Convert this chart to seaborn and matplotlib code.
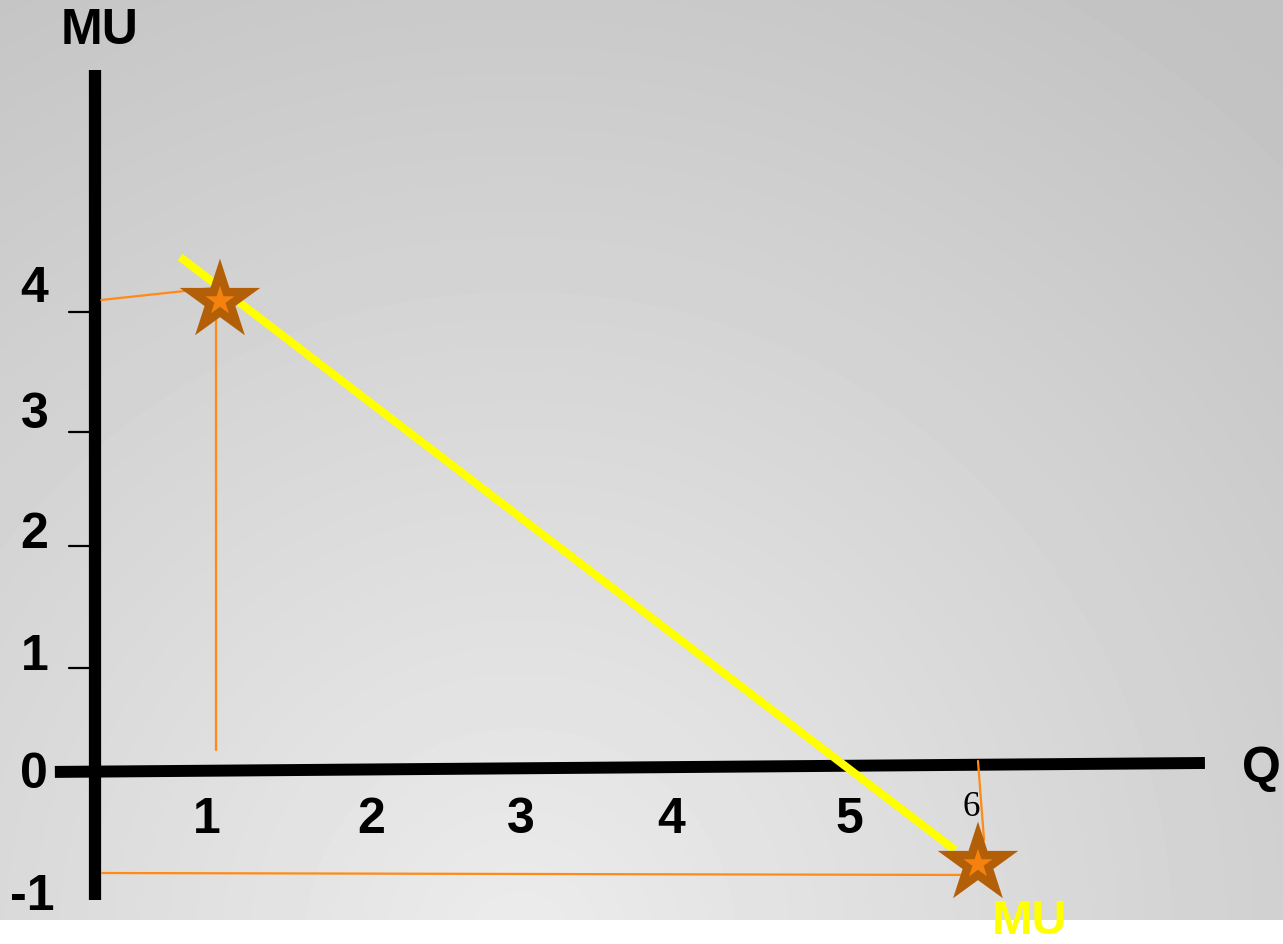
import numpy as np
import pandas as pd
import matplotlib
matplotlib.use("Agg")
import matplotlib.pyplot as plt
import seaborn as sns

# MU curve and the two marked points (Q, MU)
mu_line_q = [0.737, 5.848]
mu_line_mu = [4.480, -0.699]
star_q = [1.0, 6.0]
star_mu = [4.096, -0.821]

# guide lines drawn from the stars to the axes
guide_top_q = [0.217, 0.954]
guide_top_mu = [4.105, 4.21]
guide_drop_q = [0.974, 0.974]
guide_drop_mu = [4.105, 0.175]
guide_low_q = [0.222, 5.901]
guide_low_mu = [-0.900, -0.917]
guide_up_q = [6.0, 6.04]
guide_up_mu = [0.079, -0.611]

# axes lines
yaxis_q = [0.175, 0.175]
yaxis_mu = [6.114, -1.135]
xaxis_q = [-0.089, 7.497]
xaxis_mu = [-0.017, 0.061]

# y tick marks and labels
ytick_pos = [4.0, 2.952, 1.956, 0.891]
ylabels = ["4", "3", "2", "1", "0", "-1"]
ylabel_pos = [4.087, 2.987, 1.939, 0.873, -0.157, -1.223]
ylabel_x = [-0.224, -0.224, -0.224, -0.224, -0.228, -0.240]

# x labels
xlabels = ["1", "2", "3", "4", "5"]
xlabel_pos = [0.914, 1.996, 2.985, 3.975, 5.149]
xlabel_y = -0.550

sns.set_style("white")
plt.rcParams['font.family'] = ['Liberation Sans', 'DejaVu Sans']
plt.rcParams['text.color'] = 'black'

fig = plt.figure(figsize=(12.83, 9.44), dpi=100)
fig.patch.set_facecolor("white")

# gray radial gradient background (slide), white strip at the bottom
bg = fig.add_axes([0, 24 / 944, 1, 920 / 944])
yy, xx = np.mgrid[0:920, 0:1283]
d = np.sqrt((xx - 520) ** 2 + (yy - 944) ** 2)
shade = 236 - 42 * np.clip(d / 1150, 0, 1)
bg.imshow(shade, cmap="gray", vmin=0, vmax=255, aspect="auto", interpolation="bilinear")
bg.set_axis_off()

ax = fig.add_axes([0, 0, 1, 1])
ax.patch.set_alpha(0)
ax.set_xlim(-0.451, 8.012)
ax.set_ylim(-1.52, 6.725)

# axes
ax.plot(yaxis_q, yaxis_mu, color="black", lw=8.8, solid_capstyle="butt")
ax.plot(xaxis_q, xaxis_mu, color="black", lw=8.6, solid_capstyle="butt")
for t in ytick_pos:
    ax.plot([0.004, 0.142], [t, t], color="black", lw=1.6)

# orange guides
orange = "#ff8a14"
for gq, gm in [(guide_top_q, guide_top_mu), (guide_drop_q, guide_drop_mu),
               (guide_low_q, guide_low_mu), (guide_up_q, guide_up_mu)]:
    ax.plot(gq, gm, color=orange, lw=1.6)

# MU curve
line_df = pd.DataFrame({"Q": mu_line_q, "MU": mu_line_mu})
sns.lineplot(data=line_df, x="Q", y="MU", ax=ax, color="#ffff00", lw=5.8,
             solid_capstyle="butt", legend=False)

# stars
star_df = pd.DataFrame({"Q": star_q, "MU": star_mu})
sns.scatterplot(data=star_df, x="Q", y="MU", ax=ax, marker="*", s=61 ** 2,
                color="#b35f07", edgecolor="none", linewidth=0, zorder=5, legend=False)
sns.scatterplot(data=star_df, x="Q", y="MU", ax=ax, marker="*", s=22 ** 2,
                color="#f5820f", edgecolor="none", linewidth=0, zorder=6, legend=False)
ax.set_xlabel("")
ax.set_ylabel("")
ax.set_axis_off()

# text
for lab, x, y in zip(ylabels, ylabel_x, ylabel_pos):
    ax.text(x, y, lab, fontsize=36, fontweight="bold", color="black", ha="center", va="baseline")
for lab, x in zip(xlabels, xlabel_pos):
    ax.text(x, xlabel_y, lab, fontsize=36, fontweight="bold", color="black", ha="center", va="baseline")
ax.text(5.954, -0.402, "6", fontsize=25, family="Liberation Serif", color="black",
        ha="center", va="baseline")
ax.text(7.873, -0.105, "Q", fontsize=36, fontweight="bold", color="black", ha="center", va="baseline")
ax.text(0.208, 6.341, "MU", fontsize=36, fontweight="bold", color="black", ha="center", va="baseline")
ax.text(6.337, -1.43, "MU", fontsize=35, fontweight="bold", color="#ffff00",
        ha="center", va="baseline", zorder=7)

fig.savefig("out.png", dpi=100)
